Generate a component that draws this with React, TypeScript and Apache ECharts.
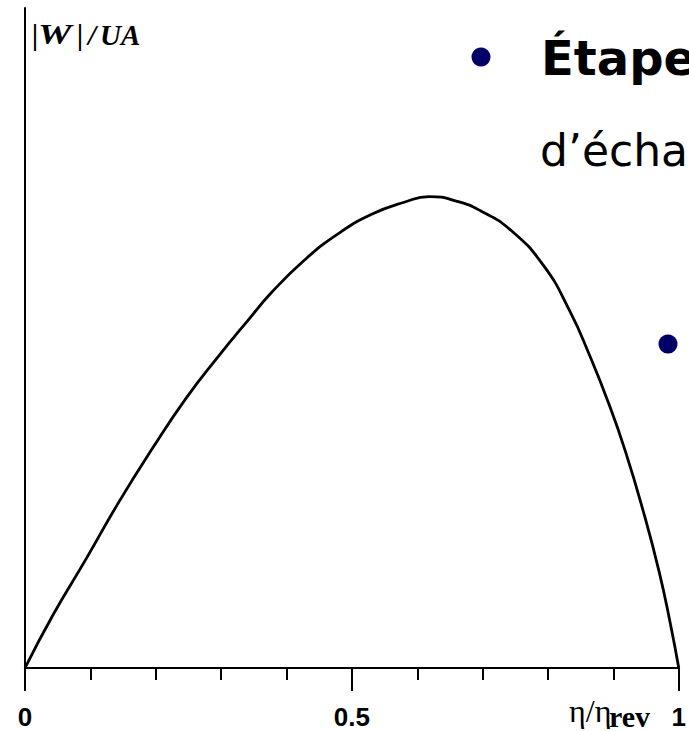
import React, { useEffect, useRef } from "react";
import * as echarts from "echarts";

// η/ηrev values (x) and normalised |W|/UA values (y)
const effRatio = [0, 0.043, 0.0937, 0.1444, 0.195, 0.2457, 0.2964, 0.342, 0.3774, 0.428, 0.4787, 0.5294, 0.58, 0.618, 0.661, 0.6966, 0.742, 0.793, 0.833, 0.8637, 0.894, 0.919, 0.945, 0.97, 0.987, 1];
const workRatio = [0, 0.113, 0.232, 0.354, 0.466, 0.571, 0.662, 0.739, 0.797, 0.866, 0.921, 0.962, 0.988, 1.0, 0.99, 0.97, 0.93, 0.854, 0.758, 0.663, 0.557, 0.457, 0.336, 0.204, 0.095, 0];
const xTickLabels = ["0", "0.5", "1"];
const yAxisLabelParts = ["|", "W", "|", "/", "UA"];
const slideTitle = "Étape";
const slideLine2 = "d’écha";

export default function App() {
  const ref = useRef<HTMLDivElement>(null);
  useEffect(() => {
    if (!ref.current) return;
    const chart = echarts.init(ref.current, null, { renderer: "svg" });
    const data = effRatio.map((x, i) => [x, workRatio[i]]);
    const partX = [32, 38, 77, 88, 100];
    const partScale = [1, 1.3, 1, 1, 1];
    const serifBI = { fontFamily: "Liberation Serif", fontWeight: "bold", fontStyle: "italic", fontSize: 29, fill: "#000" };
    chart.setOption({
      animation: false,
      backgroundColor: "#fff",
      grid: { left: 25, right: 6, top: 8, bottom: 63, containLabel: false },
      xAxis: {
        type: "value",
        min: 0,
        max: 1,
        interval: 0.5,
        axisLine: { show: true, lineStyle: { color: "#000", width: 2 } },
        axisTick: { show: true, length: 23, lineStyle: { color: "#000", width: 2 } },
        minorTick: { show: true, splitNumber: 5, length: 12, lineStyle: { color: "#000", width: 2 } },
        splitLine: { show: false },
        minorSplitLine: { show: false },
        axisLabel: {
          show: true,
          margin: 36,
          color: "#000",
          fontFamily: "Liberation Sans",
          fontWeight: "bold",
          fontSize: 26,
          formatter: (v: number) => {
            const idx = Math.round(v / 0.5);
            return xTickLabels[idx] ?? "";
          },
        },
      },
      yAxis: {
        type: "value",
        min: 0,
        max: 1.4,
        axisLine: { show: true, lineStyle: { color: "#000", width: 2 } },
        axisTick: { show: false },
        axisLabel: { show: false },
        splitLine: { show: false },
      },
      series: [
        {
          type: "line",
          data,
          smooth: 0.5,
          showSymbol: false,
          lineStyle: { color: "#000", width: 2.8 },
        },
      ],
      graphic: [
        ...yAxisLabelParts.map((t, i) => ({
          type: "text",
          x: partX[i],
          y: 20,
          scaleX: partScale[i],
          style: { ...serifBI, text: t },
        })),
        {
          type: "text",
          x: 569,
          y: 711,
          style: { text: "η/η", fontFamily: "Liberation Serif", fontSize: 32, fill: "#000", verticalAlign: "middle" },
        },
        {
          type: "text",
          x: 609,
          y: 716,
          style: { text: "rev", fontFamily: "Liberation Serif", fontWeight: "bold", fontSize: 30, fill: "#000", verticalAlign: "middle" },
        },
        { type: "circle", shape: { cx: 481, cy: 57, r: 9.5 }, style: { fill: "#000066" } },
        {
          type: "text",
          x: 541,
          y: 58,
          style: { text: slideTitle, fontFamily: "DejaVu Sans", fontWeight: "bold", fontSize: 48, fill: "#000", verticalAlign: "middle" },
        },
        {
          type: "text",
          x: 540,
          y: 150,
          style: { text: slideLine2, fontFamily: "DejaVu Sans", fontSize: 44, fill: "#000", verticalAlign: "middle" },
        },
        { type: "circle", shape: { cx: 668, cy: 344, r: 9.5 }, style: { fill: "#000066" } },
      ],
    });
    return () => chart.dispose();
  }, []);
  return <div ref={ref} style={{ position: "fixed", left: 0, top: 0, width: 689, height: 731 }} />;
}
